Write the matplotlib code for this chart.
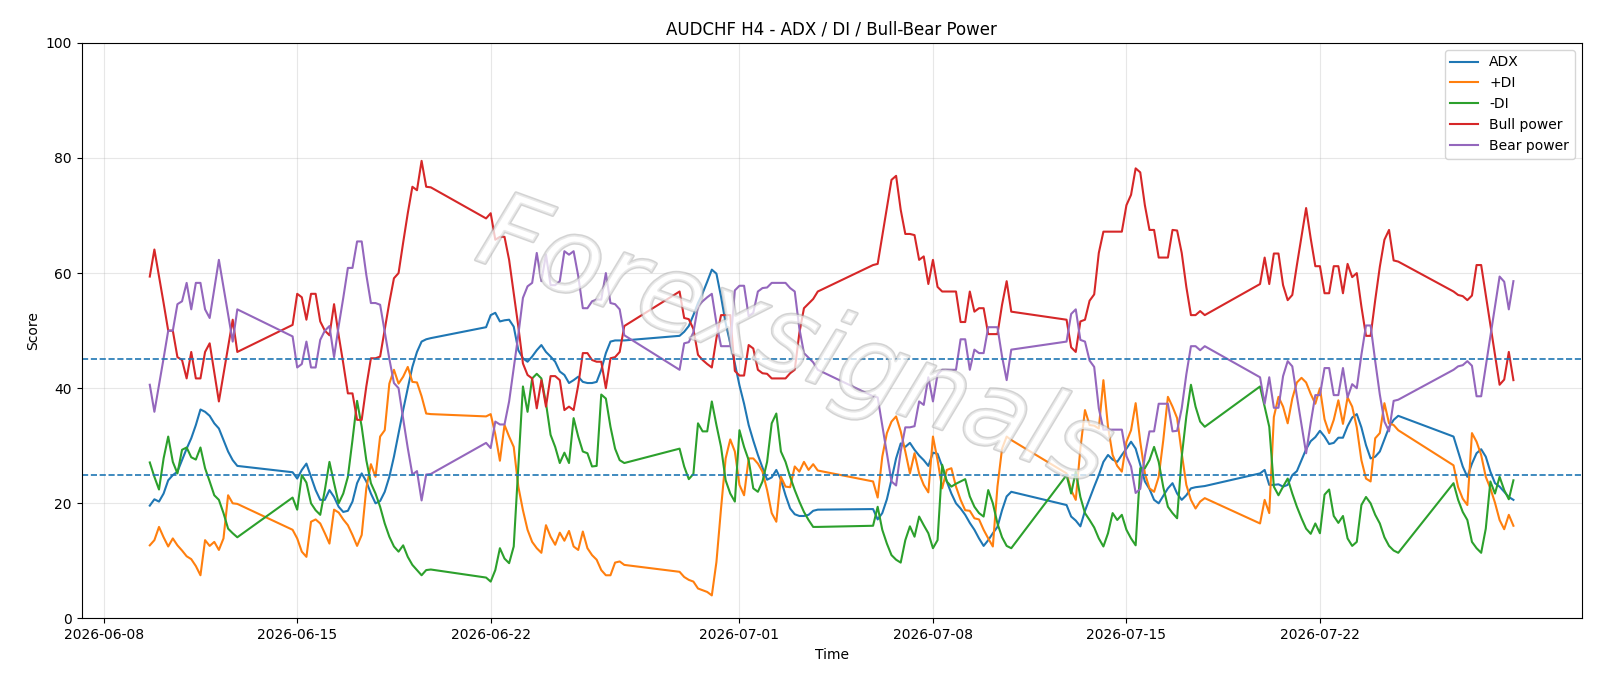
import numpy as np
import pandas as pd
import matplotlib
matplotlib.use('Agg')
import matplotlib.pyplot as plt
import matplotlib.patheffects as pe

# H4 bars come in runs (market open), one start + bar count per run
seg_starts = ['2026-06-09 16:00', '2026-06-14 20:00', '2026-06-21 20:00', '2026-06-28 20:00',
              '2026-07-05 20:00', '2026-07-12 20:00', '2026-07-19 20:00', '2026-07-26 20:00']
seg_lengths = [20, 31, 31, 31, 31, 31, 31, 14]

adx = [19.6, 20.7, 20.3, 21.7, 24.0, 24.9, 25.5, 27.5, 29.5, 31.3, 33.6, 36.3, 35.9, 35.2, 33.9, 33.0, 31.0, 29.0, 27.5, 26.5,
       25.4, 24.3, 25.8, 26.9, 24.6, 22.3, 20.6, 20.6, 22.3, 21.1, 19.4, 18.5, 18.7, 20.3, 23.5, 25.2, 23.8, 21.7, 20.0, 20.4,
       22.0, 24.6, 28.1, 32.2, 36.2, 40.0, 43.7, 46.3, 48.1, 48.5, 48.7,
       50.6, 52.7, 53.1, 51.6, 51.8, 51.9, 50.7, 46.6, 45.2, 44.6, 45.5, 46.6, 47.5, 46.3, 45.5, 44.6, 42.9, 42.3, 40.9, 41.4,
       42.0, 41.1, 40.9, 40.9, 41.1, 43.2, 46.1, 48.1, 48.3, 48.3, 48.3,
       49.1, 49.8, 50.8, 52.7, 54.8, 56.5, 58.5, 60.6, 59.9, 55.9, 51.3, 47.8, 44.3, 40.5, 37.3, 33.6, 30.9, 28.4, 26.2, 24.1,
       24.5, 25.8, 24.1, 21.4, 19.1, 18.1, 17.8, 17.8, 18.0, 18.7, 18.9,
       19.0, 17.2, 18.3, 20.7, 24.1, 27.8, 30.4, 29.8, 30.5, 29.3, 28.3, 27.5, 26.5, 28.8, 28.6, 26.4, 23.8, 21.7, 20.0, 19.1,
       18.0, 16.6, 15.4, 13.9, 12.6, 13.6, 14.8, 15.9, 18.8, 21.2, 22.0,
       19.7, 17.7, 17.0, 16.0, 18.7, 20.8, 22.9, 24.9, 27.2, 28.4, 27.6, 27.2, 28.4, 29.5, 30.7, 29.5, 26.7, 23.8, 22.5, 20.6,
       20.0, 21.3, 22.6, 23.5, 21.7, 20.6, 21.4, 22.6, 22.8, 22.9, 23.0,
       25.2, 25.8, 23.2, 23.2, 23.3, 22.9, 23.2, 24.9, 25.6, 27.5, 29.4, 30.8, 31.5, 32.6, 31.6, 30.3, 30.5, 31.4, 31.4, 33.4,
       34.9, 35.5, 33.2, 30.1, 27.8, 28.1, 29.0, 31.1, 33.2, 34.5, 35.2,
       31.6, 29.0, 26.4, 24.6, 26.9, 28.7, 29.4, 28.1, 25.5, 23.5, 22.9, 22.0, 21.1, 20.6]

plus_di = [12.7, 13.6, 15.9, 14.1, 12.5, 13.9, 12.7, 11.8, 10.8, 10.3, 9.1, 7.5, 13.6, 12.6, 13.3, 11.9, 13.9, 21.4, 20.0, 19.9,
           15.4, 13.9, 11.6, 10.7, 16.8, 17.2, 16.5, 14.8, 13.0, 18.9, 18.4, 17.2, 16.2, 14.5, 12.6, 14.5, 22.6, 26.8, 24.6, 31.6,
           32.7, 40.8, 43.2, 40.8, 42.0, 43.7, 41.1, 41.0, 38.6, 35.6, 35.5,
           35.1, 35.5, 32.0, 27.4, 33.6, 31.6, 29.8, 22.9, 18.8, 15.4, 13.3, 12.2, 11.4, 16.2, 14.2, 12.8, 14.9, 13.5, 15.2, 12.5,
           11.9, 15.1, 12.2, 11.0, 10.2, 8.4, 7.5, 7.5, 9.7, 9.9, 9.3,
           8.1, 7.2, 6.7, 6.4, 5.2, 4.9, 4.6, 4.0, 9.8, 19.1, 27.8, 31.1, 29.0, 23.2, 21.4, 27.8, 27.8, 26.9, 25.5, 22.3,
           18.3, 16.8, 24.6, 22.9, 22.8, 26.4, 25.5, 27.2, 25.8, 26.8, 25.7,
           23.8, 21.0, 28.1, 32.2, 34.2, 35.1, 32.5, 29.0, 25.2, 28.7, 25.2, 23.2, 21.9, 31.6, 27.5, 22.6, 25.8, 26.1, 22.9, 20.6,
           18.8, 18.7, 17.4, 17.2, 15.4, 13.9, 12.5, 22.9, 29.5, 31.6, 31.0,
           25.2, 22.3, 20.6, 29.5, 36.2, 33.6, 33.5, 33.0, 41.4, 33.3, 28.4, 26.5, 25.5, 30.7, 32.7, 37.4, 30.7, 25.2, 22.6, 22.0,
           24.6, 31.0, 38.5, 36.8, 34.8, 28.7, 23.2, 20.6, 19.1, 20.3, 20.9,
           16.5, 20.6, 18.3, 35.0, 38.5, 36.8, 33.9, 38.2, 41.0, 41.8, 41.0, 39.0, 37.3, 40.0, 34.6, 32.2, 34.5, 37.9, 33.8, 38.4,
           36.8, 33.2, 27.5, 24.3, 23.8, 31.3, 32.2, 37.4, 33.9, 33.6, 32.7,
           26.6, 22.8, 20.8, 19.7, 32.2, 30.7, 28.4, 24.6, 22.6, 20.1, 17.1, 15.5, 18.0, 16.1]

minus_di = [27.1, 24.6, 22.4, 27.8, 31.6, 27.2, 25.2, 29.3, 29.7, 28.0, 27.6, 29.7, 26.1, 23.8, 21.4, 20.6, 18.3, 15.6, 14.8, 14.1,
            21.0, 18.9, 24.9, 23.6, 20.0, 18.8, 18.0, 22.3, 27.2, 23.5, 20.0, 21.7, 24.6, 31.0, 37.8, 33.3, 27.5, 23.5, 21.7, 19.4,
            16.5, 14.2, 12.5, 11.6, 12.7, 10.7, 9.3, 8.4, 7.5, 8.4, 8.5,
            7.1, 6.4, 8.4, 12.2, 10.4, 9.6, 12.5, 26.4, 40.3, 35.9, 41.7, 42.5, 41.7, 37.4, 31.9, 29.8, 27.0, 28.8, 27.0, 34.8,
            31.6, 29.0, 28.7, 26.4, 26.5, 38.9, 38.2, 33.3, 29.5, 27.5, 27.0,
            29.5, 26.4, 24.2, 25.1, 33.9, 32.5, 32.5, 37.7, 33.6, 29.8, 24.0, 21.7, 20.3, 32.7, 29.8, 27.5, 22.6, 22.0, 23.8, 27.2,
            33.9, 35.6, 29.0, 27.2, 24.6, 22.3, 20.3, 18.5, 17.1, 15.9, 15.9,
            16.1, 19.4, 15.4, 13.0, 11.0, 10.2, 9.7, 13.6, 16.0, 14.2, 17.7, 16.2, 14.8, 12.2, 13.6, 26.7, 23.8, 22.9, 23.4, 23.8,
            24.2, 21.2, 19.4, 18.3, 17.7, 22.3, 20.0, 16.5, 14.1, 12.6, 12.2,
            24.9, 21.7, 25.5, 21.1, 18.3, 17.1, 15.8, 13.9, 12.5, 14.8, 18.3, 17.1, 18.0, 15.4, 13.9, 12.7, 26.1, 26.1, 27.5, 29.8,
            27.2, 22.8, 19.4, 18.3, 17.4, 28.1, 35.1, 40.6, 36.8, 34.2, 33.3,
            40.3, 36.8, 33.3, 22.9, 21.4, 22.9, 24.3, 21.7, 19.4, 17.4, 15.6, 14.7, 16.5, 14.8, 21.5, 22.4, 17.8, 16.6, 17.8, 13.9,
            12.6, 13.3, 19.7, 21.1, 20.0, 18.0, 16.5, 14.1, 12.6, 11.8, 11.4,
            23.5, 20.6, 18.5, 17.1, 13.3, 12.2, 11.4, 15.6, 23.8, 21.7, 24.6, 22.3, 20.7, 24.0]

bull = [59.4, 64.1, 59.5, 54.8, 50.0, 50.0, 45.4, 44.9, 41.7, 46.3, 41.7, 41.7, 46.3, 47.8, 42.7, 37.7, 42.4, 47.2, 51.9, 46.3,
        51.0, 56.4, 55.8, 51.9, 56.4, 56.4, 51.6, 50.0, 49.2, 54.6, 49.2, 44.3, 39.1, 39.1, 34.5, 34.5, 40.3, 45.2, 45.2, 45.5,
        50.2, 54.9, 59.1, 60.0, 65.3, 70.4, 75.0, 74.4, 79.5, 75.0, 74.9,
        69.5, 70.4, 65.8, 66.3, 66.3, 62.3, 56.5, 50.7, 44.3, 42.3, 41.7, 36.5, 41.4, 36.8, 42.1, 42.1, 41.4, 36.2, 36.8, 36.2,
        40.5, 46.1, 46.1, 44.9, 44.6, 44.6, 40.0, 45.2, 45.4, 46.3, 50.8,
        56.8, 52.2, 52.0, 50.3, 45.8, 44.9, 44.2, 43.6, 48.7, 52.7, 52.7, 52.7, 43.0, 42.2, 42.2, 47.5, 46.9, 43.2, 42.6, 42.5,
        41.7, 41.7, 41.7, 41.7, 42.6, 43.2, 49.6, 53.9, 54.7, 55.5, 56.8,
        61.4, 61.6, 66.5, 71.3, 76.2, 76.9, 71.0, 66.8, 66.8, 66.6, 62.3, 62.9, 58.1, 62.3, 57.6, 56.8, 56.8, 56.8, 56.8, 51.5,
        51.5, 56.8, 53.3, 53.9, 53.9, 49.4, 49.4, 49.4, 54.5, 58.6, 53.3,
        51.9, 47.1, 46.3, 51.6, 51.9, 55.2, 56.3, 63.5, 67.2, 67.2, 67.2, 67.2, 67.2, 71.8, 73.6, 78.2, 77.5, 71.8, 67.5, 67.5,
        62.7, 62.7, 62.7, 67.5, 67.4, 63.5, 57.6, 52.7, 52.7, 53.4, 52.7,
        58.1, 62.7, 58.1, 63.4, 63.4, 57.9, 55.3, 56.2, 61.4, 66.3, 71.3, 66.0, 61.2, 61.2, 56.5, 56.5, 61.2, 61.2, 56.5, 61.6,
        59.3, 60.0, 54.2, 49.1, 49.1, 55.3, 61.1, 65.8, 67.5, 62.2, 62.0,
        56.8, 56.2, 56.0, 55.3, 56.1, 61.4, 61.4, 56.2, 51.0, 45.8, 40.6, 41.5, 46.3, 41.4]

bear = [40.6, 35.9, 40.5, 45.2, 50.0, 50.0, 54.6, 55.1, 58.3, 53.7, 58.3, 58.3, 53.7, 52.2, 57.3, 62.3, 57.6, 52.8, 48.1, 53.7,
        49.0, 43.6, 44.2, 48.1, 43.6, 43.6, 48.4, 50.0, 50.8, 45.4, 50.8, 55.7, 60.9, 60.9, 65.5, 65.5, 59.7, 54.8, 54.8, 54.5,
        49.8, 45.1, 40.9, 40.0, 34.7, 29.6, 25.0, 25.6, 20.5, 25.0, 25.1,
        30.5, 29.6, 34.2, 33.7, 33.7, 37.7, 43.5, 49.3, 55.7, 57.7, 58.3, 63.5, 58.6, 63.2, 57.9, 57.9, 58.6, 63.8, 63.2, 63.8,
        59.5, 53.9, 53.9, 55.1, 55.4, 55.4, 60.0, 54.8, 54.6, 53.7, 49.2,
        43.2, 47.8, 48.0, 49.7, 54.2, 55.1, 55.8, 56.4, 51.3, 47.3, 47.3, 47.3, 57.0, 57.8, 57.8, 52.5, 53.1, 56.8, 57.4, 57.5,
        58.3, 58.3, 58.3, 58.3, 57.4, 56.8, 50.4, 46.1, 45.3, 44.5, 43.2,
        38.6, 38.4, 33.5, 28.7, 23.8, 23.1, 29.0, 33.2, 33.2, 33.4, 37.7, 37.1, 41.9, 37.7, 42.4, 43.2, 43.2, 43.2, 43.2, 48.5,
        48.5, 43.2, 46.7, 46.1, 46.1, 50.6, 50.6, 50.6, 45.5, 41.4, 46.7,
        48.1, 52.9, 53.7, 48.4, 48.1, 44.8, 43.7, 36.5, 32.8, 32.8, 32.8, 32.8, 32.8, 28.2, 26.4, 21.8, 22.5, 28.2, 32.5, 32.5,
        37.3, 37.3, 37.3, 32.5, 32.6, 36.5, 42.4, 47.3, 47.3, 46.6, 47.3,
        41.9, 37.3, 41.9, 36.6, 36.6, 42.1, 44.7, 43.8, 38.6, 33.7, 28.7, 34.0, 38.8, 38.8, 43.5, 43.5, 38.8, 38.8, 43.5, 38.4,
        40.7, 40.0, 45.8, 50.9, 50.9, 44.7, 38.9, 34.2, 32.5, 37.8, 38.0,
        43.2, 43.8, 44.0, 44.7, 43.9, 38.6, 38.6, 43.8, 49.0, 54.2, 59.4, 58.5, 53.7, 58.6]

# Build the bar timestamps
times = pd.DatetimeIndex(np.concatenate(
    [pd.date_range(s, periods=n, freq='4h').values for s, n in zip(seg_starts, seg_lengths)]))

fig, ax = plt.subplots(figsize=(16, 6.86), dpi=100)

ax.plot(times, adx, label='ADX', lw=1.5)
ax.plot(times, plus_di, label='+DI', lw=1.5)
ax.plot(times, minus_di, label='-DI', lw=1.5)
ax.plot(times, bull, label='Bull power', lw=1.5)
ax.plot(times, bear, label='Bear power', lw=1.5)

ax.axhline(45, color='C0', ls='--', lw=1.2)
ax.axhline(25, color='C0', ls='--', lw=1.2)

# watermark
ax.text(0.475, 0.475, 'Forexsignals', transform=ax.transAxes, fontsize=76, style='italic',
        fontweight='light', rotation=-20, ha='center', va='center', color='white', alpha=0.5, zorder=5,
        path_effects=[pe.Stroke(linewidth=2.2, foreground='#a8a8a8'), pe.Normal()])

ax.set_ylim(0, 100)
ax.set_title('AUDCHF H4 - ADX / DI / Bull-Bear Power')
ax.set_xlabel('Time')
ax.set_ylabel('Score')
ax.grid(True, alpha=0.3)
ax.legend(loc='upper right')

fig.subplots_adjust(left=0.051, right=0.9885, top=0.9375, bottom=0.0985)
fig.savefig('out.png')
